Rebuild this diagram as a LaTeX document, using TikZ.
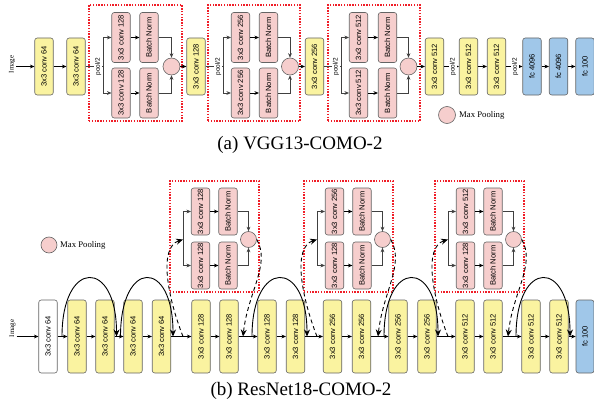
\documentclass[tikz,border=0pt]{standalone}
\usepackage{fontspec}
\setmainfont{Liberation Serif}
\setsansfont{Liberation Sans}
\usetikzlibrary{arrows.meta}
\definecolor{convyellow}{RGB}{250,243,160}
\definecolor{normpink}{RGB}{246,206,205}
\definecolor{fcblue}{RGB}{160,199,233}
\definecolor{edgegray}{RGB}{100,100,100}
\definecolor{groupred}{RGB}{240,30,40}

\tikzset{
  layer/.style={draw=edgegray, line width=0.6pt, rounded corners=2.5pt, inner sep=0pt,
    font=\sffamily\fontsize{7.6}{8}\selectfont, minimum width=18.5pt},
  convbox/.style={layer, fill=convyellow, minimum height=57pt},
  rowbox/.style={convbox, minimum height=73pt},
  inbox/.style={layer, fill=white, minimum height=73pt},
  fcbox/.style={layer, fill=fcblue, minimum height=57pt},
  normbox/.style={layer, fill=normpink, minimum height=50pt},
  poolnode/.style={circle, draw=edgegray, line width=0.6pt, fill=normpink, minimum size=17pt, inner sep=0pt},
  groupbox/.style={draw=groupred, line width=1.3pt, dash pattern=on 1.4pt off 1.4pt, inner sep=0pt},
  arr/.style={-{Stealth[length=4.5pt,width=3.8pt]}, line width=0.7pt},
  thinline/.style={line width=0.6pt, draw=black!75},
  skiparr/.style={-{Stealth[length=7pt,width=6pt]}, line width=0.9pt},
  dasharr/.style={skiparr, dash pattern=on 4pt off 3pt},
  poollabel/.style={fill=white, inner sep=0.6pt, font=\sffamily\fontsize{6.5}{7}\selectfont},
  smalltext/.style={inner sep=1pt, font=\fontsize{7}{7}\selectfont},
  legendtext/.style={anchor=west, inner sep=0pt, font=\fontsize{8.7}{9}\selectfont},
  captiontext/.style={inner sep=0pt, font=\fontsize{19}{22}\selectfont},
}

\begin{document}
\begin{tikzpicture}[x=1pt,y=-1pt]
\useasboundingbox (0,0) rectangle (594,404);

% (a) VGG13-COMO-2
\node[groupbox, minimum width=93pt, minimum height=116pt] (g1) at (135.5,63) {};
\node[groupbox, minimum width=92pt, minimum height=116pt] (g2) at (254,63) {};
\node[groupbox, minimum width=92pt, minimum height=116pt] (g3) at (374,63) {};

\node[smalltext] (imga) at (12,64.5) {\rotatebox{90}{Image}};
\node[convbox] (t1) at (44,66.5) {\rotatebox{90}{3x3 conv 64}};
\node[convbox] (t2) at (76,66.5) {\rotatebox{90}{3x3 conv 64}};
\node[convbox] (t3) at (196,66.5) {\rotatebox{90}{3x3 conv 128}};
\node[convbox] (t4) at (314.5,66.5) {\rotatebox{90}{3x3 conv 256}};
\node[convbox] (t5) at (434.5,66.5) {\rotatebox{90}{3x3 conv 512}};
\node[convbox] (t6) at (468.5,66.5) {\rotatebox{90}{3x3 conv 512}};
\node[convbox] (t7) at (496.5,66.5) {\rotatebox{90}{3x3 conv 512}};
\node[fcbox] (f1) at (532,66.5) {\rotatebox{90}{fc 4096}};
\node[fcbox] (f2) at (558.5,66.5) {\rotatebox{90}{fc 4096}};
\node[fcbox] (f3) at (585,66.5) {\rotatebox{90}{fc 100}};

\node[normbox] (c1a) at (121,37.5) {\rotatebox{90}{3x3 conv 128}};
\node[normbox] (c1b) at (121,93) {\rotatebox{90}{3x3 conv 128}};
\node[normbox] (n1a) at (149,37.5) {\rotatebox{90}{Batch Norm}};
\node[normbox] (n1b) at (149,93) {\rotatebox{90}{Batch Norm}};
\node[poolnode] (mp1) at (171.5,66.5) {};
\node[normbox] (c2a) at (240.5,37.5) {\rotatebox{90}{3x3 conv 256}};
\node[normbox] (c2b) at (240.5,93) {\rotatebox{90}{3x3 conv 256}};
\node[normbox] (n2a) at (268.5,37.5) {\rotatebox{90}{Batch Norm}};
\node[normbox] (n2b) at (268.5,93) {\rotatebox{90}{Batch Norm}};
\node[poolnode] (mp2) at (290,66.5) {};
\node[normbox] (c3a) at (358.5,37.5) {\rotatebox{90}{3x3 conv 512}};
\node[normbox] (c3b) at (358.5,93) {\rotatebox{90}{3x3 conv 512}};
\node[normbox] (n3a) at (387.5,37.5) {\rotatebox{90}{Batch Norm}};
\node[normbox] (n3b) at (387.5,93) {\rotatebox{90}{Batch Norm}};
\node[poolnode] (mp3) at (408.5,66.5) {};

\coordinate (sa1) at (103,66.5);
\coordinate (sa2) at (223,66.5);
\coordinate (sa3) at (341,66.5);

\draw[arr] (imga.east |- t1.west) -- (t1.west);
\draw[arr] (t1) -- (t2);
\draw[thinline] (t2.east) -- node[poollabel, pos=0.72] (pl1) {\rotatebox{90}{pool/2}} (sa1);
\draw[thinline] (t3.east) -- node[poollabel, pos=0.72] (pl2) {\rotatebox{90}{pool/2}} (sa2);
\draw[thinline] (t4.east) -- node[poollabel, pos=0.7] (pl3) {\rotatebox{90}{pool/2}} (sa3);
\foreach \s/\g in {sa1/1,sa2/2,sa3/3} {
  \draw[thinline, arr] (\s) |- (c\g a.west);
  \draw[thinline, arr] (\s) |- (c\g b.west);
  \draw[arr] (c\g a) -- (n\g a);
  \draw[arr] (c\g b) -- (n\g b);
  \draw[thinline, arr] (n\g a.east) -| (mp\g.north);
  \draw[thinline, arr] (n\g b.east) -| (mp\g.south);
}
\draw[arr] (mp1) -- (t3);
\draw[arr] (mp2) -- (t4);
\draw[arr] (mp3) -- (t5);
\draw[arr] (t5) -- node[poollabel, pos=0.6] (pl4) {\rotatebox{90}{pool/2}} (t6);
\draw[arr] (t6) -- (t7);
\draw[arr] (t7) -- node[poollabel, pos=0.55] (pl5) {\rotatebox{90}{pool/2}} (f1);
\draw[arr] (f1) -- (f2);
\draw[arr] (f2) -- (f3);

\node[poolnode] (lga) at (447,115) {};
\node[legendtext] (lgta) at (459,115) {Max Pooling};
\node[captiontext] (capa) at (300,145) {(a) VGG13-COMO-2};

% (b) ResNet18-COMO-2
\node[groupbox, minimum width=89pt, minimum height=111pt] (h1) at (214.5,236.5) {};
\node[groupbox, minimum width=89pt, minimum height=111pt] (h2) at (348.5,236.5) {};
\node[groupbox, minimum width=89pt, minimum height=111pt] (h3) at (479.5,236.5) {};

\node[normbox, minimum height=47pt] (d1a) at (200.5,211.5) {\rotatebox{90}{3x3 conv 128}};
\node[normbox, minimum height=47pt] (d1b) at (200.5,265.5) {\rotatebox{90}{3x3 conv 128}};
\node[normbox, minimum height=47pt] (m1a) at (228,211.5) {\rotatebox{90}{Batch Norm}};
\node[normbox, minimum height=47pt] (m1b) at (228,265.5) {\rotatebox{90}{Batch Norm}};
\node[poolnode, minimum size=16pt] (q1) at (248.5,239.5) {};
\node[normbox, minimum height=47pt] (d2a) at (334.5,211.5) {\rotatebox{90}{3x3 conv 256}};
\node[normbox, minimum height=47pt] (d2b) at (334.5,265.5) {\rotatebox{90}{3x3 conv 128}};
\node[normbox, minimum height=47pt] (m2a) at (362,211.5) {\rotatebox{90}{Batch Norm}};
\node[normbox, minimum height=47pt] (m2b) at (362,265.5) {\rotatebox{90}{Batch Norm}};
\node[poolnode, minimum size=16pt] (q2) at (382.5,239.5) {};
\node[normbox, minimum height=47pt] (d3a) at (465.5,211.5) {\rotatebox{90}{3x3 conv 512}};
\node[normbox, minimum height=47pt] (d3b) at (465.5,265.5) {\rotatebox{90}{3x3 conv 128}};
\node[normbox, minimum height=47pt] (m3a) at (493,211.5) {\rotatebox{90}{Batch Norm}};
\node[normbox, minimum height=47pt] (m3b) at (493,265.5) {\rotatebox{90}{Batch Norm}};
\node[poolnode, minimum size=16pt] (q3) at (513.5,239.5) {};

\coordinate (sb1) at (183,239.5);
\coordinate (sb2) at (317,239.5);
\coordinate (sb3) at (448,239.5);
\foreach \s/\g in {sb1/1,sb2/2,sb3/3} {
  \draw[thinline, arr] (\s) |- (d\g a.west);
  \draw[thinline, arr] (\s) |- (d\g b.west);
  \draw[arr] (d\g a) -- (m\g a);
  \draw[arr] (d\g b) -- (m\g b);
  \draw[thinline, arr] (m\g a.east) -| (q\g.north);
  \draw[thinline, arr] (m\g b.east) -| (q\g.south);
}

\node[smalltext] (imgb) at (12.5,328.5) {\rotatebox{90}{Image}};
\node[inbox] (b1) at (48,336.5) {\rotatebox{90}{3x3 conv 64}};
\node[rowbox] (b2) at (77,336.5) {\rotatebox{90}{3x3 conv 64}};
\node[rowbox] (b3) at (105,336.5) {\rotatebox{90}{3x3 conv 64}};
\node[rowbox] (b4) at (133,336.5) {\rotatebox{90}{3x3 conv 64}};
\node[rowbox] (b5) at (161.5,336.5) {\rotatebox{90}{3x3 conv 64}};
\node[rowbox] (b6) at (201,336.5) {\rotatebox{90}{3x3 conv 128}};
\node[rowbox] (b7) at (229,336.5) {\rotatebox{90}{3x3 conv 128}};
\node[rowbox] (b8) at (267,336.5) {\rotatebox{90}{3x3 conv 128}};
\node[rowbox] (b9) at (295.5,336.5) {\rotatebox{90}{3x3 conv 128}};
\node[rowbox] (b10) at (332.5,336.5) {\rotatebox{90}{3x3 conv 256}};
\node[rowbox] (b11) at (361.5,336.5) {\rotatebox{90}{3x3 conv 256}};
\node[rowbox] (b12) at (398,336.5) {\rotatebox{90}{3x3 conv 256}};
\node[rowbox] (b13) at (427,336.5) {\rotatebox{90}{3x3 conv 256}};
\node[rowbox] (b14) at (465,336.5) {\rotatebox{90}{3x3 conv 512}};
\node[rowbox] (b15) at (493,336.5) {\rotatebox{90}{3x3 conv 512}};
\node[rowbox] (b16) at (531,336.5) {\rotatebox{90}{3x3 conv 512}};
\node[rowbox] (b17) at (559,336.5) {\rotatebox{90}{3x3 conv 512}};
\node[fcbox, minimum height=73pt, minimum width=18pt] (bf) at (585,336.5) {\rotatebox{90}{fc 100}};

\draw[arr] (imgb.east |- b1.west) -- (b1.west);
\foreach \a/\b in {b1/b2,b2/b3,b3/b4,b4/b5,b5/b6,b6/b7,b7/b8,b8/b9,b9/b10,b10/b11,
  b11/b12,b12/b13,b13/b14,b14/b15,b15/b16,b16/b17,b17/bf}
  \draw[arr] (\a.east) -- (\b.west);

% skip connections
\coordinate (k1) at (62,336.5);
\coordinate (k2) at (116.5,336.5);
\coordinate (k3) at (120.5,336.5);
\coordinate (k4) at (173,336.5);
\coordinate (k5) at (183,336.5);
\coordinate (k6) at (243,336.5);
\coordinate (k7) at (252,336.5);
\coordinate (k8) at (307,336.5);
\coordinate (k9) at (317,336.5);
\coordinate (k10) at (378,336.5);
\coordinate (k11) at (384,336.5);
\coordinate (k12) at (438,336.5);
\coordinate (k13) at (448,336.5);
\coordinate (k14) at (508,336.5);
\coordinate (k15) at (516,336.5);
\coordinate (k16) at (570,336.5);
\draw[skiparr] (k1) .. controls +(0,-78) and +(0,-78) .. (k2);
\draw[skiparr] (k3) .. controls +(0,-78) and +(0,-78) .. (k4);
\draw[skiparr] (k7) .. controls +(0,-78) and +(0,-78) .. (k8);
\draw[skiparr] (k11) .. controls +(0,-78) and +(0,-78) .. (k12);
\draw[skiparr] (k15) .. controls +(0,-78) and +(0,-78) .. (k16);
\draw[dasharr] (k5) .. controls +(-15,-38) and +(-25,8) .. (sb1);
\draw[dasharr] (k9) .. controls +(-15,-38) and +(-25,8) .. (sb2);
\draw[dasharr] (k13) .. controls +(-15,-38) and +(-25,8) .. (sb3);
\draw[dasharr] (q1.east) .. controls +(14,25) and +(5,-45) .. (k6);
\draw[dasharr] (q2.east) .. controls +(14,25) and +(5,-45) .. (k10);
\draw[dasharr] (q3.east) .. controls +(14,25) and +(5,-45) .. (k14);

\node[poolnode, minimum size=16pt] (lgb) at (49,245) {};
\node[legendtext] (lgtb) at (60,245) {Max Pooling};
\node[captiontext] (capb) at (301,391) {(b) ResNet18-COMO-2};
\end{tikzpicture}
\end{document}
